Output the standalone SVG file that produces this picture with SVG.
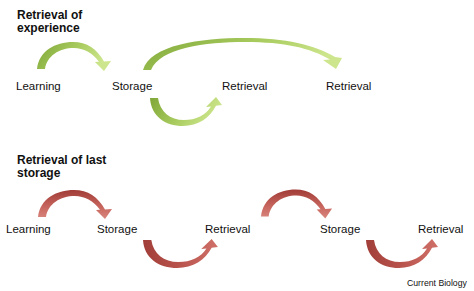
<svg xmlns="http://www.w3.org/2000/svg" xmlns:xlink="http://www.w3.org/1999/xlink" width="474" height="291" viewBox="0 0 474 291">
<style>
  text { font-family: "Liberation Sans", Arial, sans-serif; fill: #111; }
  .lbl { font-size: 11.5px; }
  .ttl { font-size: 12px; font-weight: bold; }
  .src { font-size: 8.7px; }
  .green { fill: url(#gGreen); }
  .red { fill: url(#gRed); }
  .redU { fill: url(#gRedU); }
</style>
<defs>
  <linearGradient id="gGreen" x1="0" y1="0" x2="1" y2="0.3">
    <stop offset="0" stop-color="#7fa638"/>
    <stop offset="0.55" stop-color="#a8cb5e"/>
    <stop offset="1" stop-color="#cde68d"/>
  </linearGradient>
  <linearGradient id="gRed" x1="0" y1="0" x2="0" y2="1">
    <stop offset="0" stop-color="#a13c37"/>
    <stop offset="0.6" stop-color="#c8675f"/>
    <stop offset="1" stop-color="#d9877f"/>
  </linearGradient>
  <linearGradient id="gRedU" x1="0" y1="0" x2="1" y2="0">
    <stop offset="0" stop-color="#a23e39"/>
    <stop offset="0.5" stop-color="#b9544d"/>
    <stop offset="1" stop-color="#cf7068"/>
  </linearGradient>
  <path id="over" d="M0,0 C2,-18 18,-27 36,-27 C50,-27 60,-20 67,-7.5 L74,-8 L67,2 L58,-7 L62,-7.2 C56,-16 46,-21 37,-21 C22,-21 10,-13 8,0 Z"/>
  <path id="under" d="M0,0 C1,18 15,28 33,28 C48,28 60,20 66,7.8 L72,7 L66,-1 L56,9 L61,8.4 C56,17 46,22 34,22 C20,22 10,14 8,0 Z"/>
</defs>

<g id="title-experience">
  <text class="ttl" x="17" y="18.5">Retrieval of</text>
  <text class="ttl" x="17" y="31.5">experience</text>
</g>
<g id="title-last">
  <text class="ttl" x="17" y="164">Retrieval of last</text>
  <text class="ttl" x="17" y="177">storage</text>
</g>

<g id="connectors">
  <use xlink:href="#over" href="#over" class="green" transform="translate(37,69)"/>
  <use xlink:href="#under" href="#under" class="green" transform="translate(150,98)"/>
  <path class="green" d="M143,70 C150,45 200,38 245,38 C285,38 315,45 335,57 L342,58 L336,69 L323,60 L330,59.5 C310,48 285,42 245,42 C205,42 160,48 151,70 Z"/>
  <use xlink:href="#over" href="#over" class="red" transform="translate(38,217)"/>
  <use xlink:href="#under" href="#under" class="redU" transform="translate(143,240) scale(1.04,1)"/>
  <use xlink:href="#over" href="#over" class="red" transform="translate(261,216.5) scale(0.96,1)"/>
  <use xlink:href="#under" href="#under" class="redU" transform="translate(366,240)"/>
</g>

<g id="n-learning-1"><text class="lbl" x="16" y="89.5">Learning</text></g>
<g id="n-storage-1"><text class="lbl" x="112" y="89.5">Storage</text></g>
<g id="n-retrieval-1a"><text class="lbl" x="222" y="89.5">Retrieval</text></g>
<g id="n-retrieval-1b"><text class="lbl" x="326" y="89.5">Retrieval</text></g>

<g id="n-learning-2"><text class="lbl" x="6" y="232.5">Learning</text></g>
<g id="n-storage-2a"><text class="lbl" x="97" y="232.5">Storage</text></g>
<g id="n-retrieval-2a"><text class="lbl" x="205" y="232.5">Retrieval</text></g>
<g id="n-storage-2b"><text class="lbl" x="320" y="232.5">Storage</text></g>
<g id="n-retrieval-2b"><text class="lbl" x="418" y="232.5">Retrieval</text></g>

<g id="credit"><text class="src" x="407" y="286">Current Biology</text></g>
</svg>
